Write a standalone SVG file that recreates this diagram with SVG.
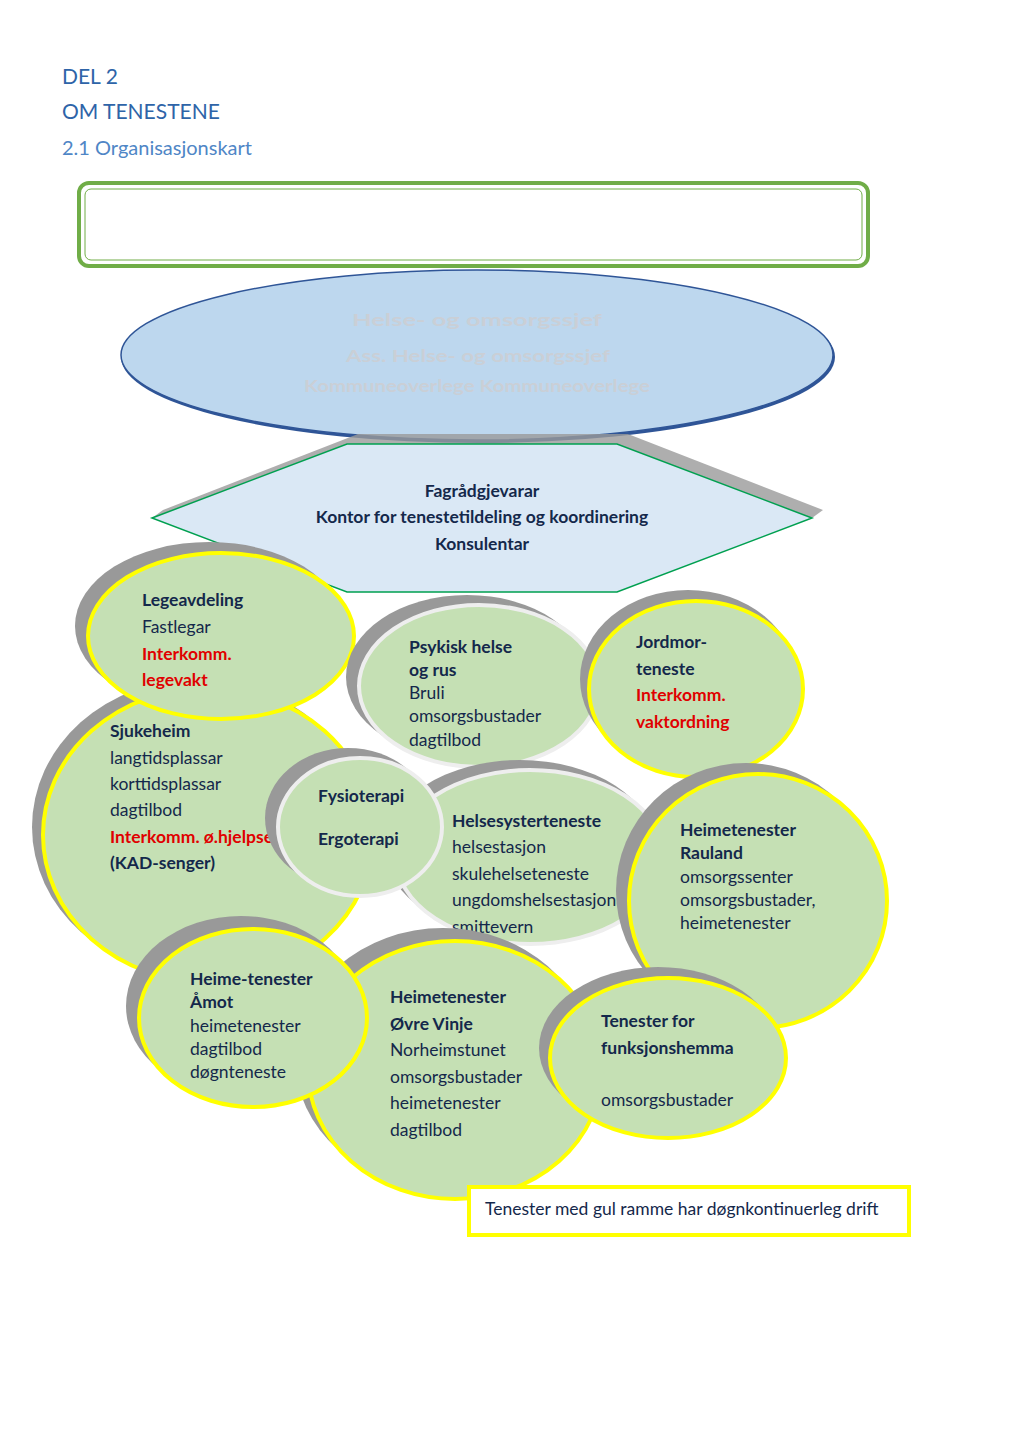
<svg xmlns="http://www.w3.org/2000/svg" width="1024" height="1447" viewBox="0 0 1024 1447">
<style>
text{font-family:Lato,"Open Sans","Liberation Sans",sans-serif;font-size:17.5px;fill:#14284b}
.b{font-weight:bold}
.r{fill:#e00000;font-weight:bold}
.h{fill:#2e64a8;font-size:21px}
.h2{fill:#4f86c6;font-size:20px}
.sh{fill:#999}
.cy{fill:#c5e0b4;stroke:#ffff00;stroke-width:4}
.cw{fill:#c5e0b4;stroke:#eeeeee;stroke-width:4}
.faint{fill:#cacfd6;font-weight:bold}
</style>
<rect width="1024" height="1447" fill="#fff"/>
<g id="header">
<text class="h" x="62" y="84">DEL 2</text>
<text class="h" x="62" y="119">OM TENESTENE</text>
<text class="h2" x="62" y="155">2.1 Organisasjonskart</text>
</g>
<g id="topbox">
<rect x="79" y="183" width="789" height="83" rx="10" fill="#fff" stroke="#70ad47" stroke-width="4"/>
<rect x="85" y="189" width="777" height="71" rx="6" fill="none" stroke="#70ad47" stroke-width="1"/>
</g>
<g id="leader">
<ellipse cx="478" cy="357" rx="357" ry="86" fill="#2f5597"/>
<ellipse cx="477" cy="355" rx="356" ry="85" fill="#bdd7ee" stroke="#2f5597" stroke-width="1.5"/>
<text class="faint" x="352" y="326" font-size="26" textLength="250" lengthAdjust="spacingAndGlyphs">Helse- og omsorgssjef</text>
<text class="faint" x="346" y="362" font-size="24" textLength="264" lengthAdjust="spacingAndGlyphs">Ass. Helse- og omsorgssjef</text>
<text class="faint" x="304" y="392" font-size="19" textLength="346" lengthAdjust="spacingAndGlyphs">Kommuneoverlege   Kommuneoverlege</text>
</g>
<g id="fag">
<polygon points="163,510 358,434 628,434 823,510 812,518 617,444 347,444 152,518" fill="#9a9a9a" opacity="0.8"/>
<polygon points="152,518 347,444 617,444 812,518 617,592 347,592" fill="#dae8f5" stroke="#00a050" stroke-width="1.5"/>
<text class="b" x="482" y="497" text-anchor="middle">Fagrådgjevarar</text>
<text class="b" x="482" y="523" text-anchor="middle">Kontor for tenestetildeling og koordinering</text>
<text class="b" x="482" y="550" text-anchor="middle">Konsulentar</text>
</g>
<g id="sjukeheim">
<ellipse class="sh" cx="198" cy="827" rx="166" ry="148"/>
<ellipse class="cy" cx="208" cy="835" rx="165" ry="147"/>
<text class="b" x="110" y="737">Sjukeheim</text>
<text x="110" y="764">langtidsplassar</text>
<text x="110" y="790">korttidsplassar</text>
<text x="110" y="816">dagtilbod</text>
<text class="r" x="110" y="843">Interkomm. ø.hjelpse</text>
<text class="b" x="110" y="869">(KAD-senger)</text>
</g>
<g id="legeavdeling">
<ellipse class="sh" cx="209" cy="626" rx="134" ry="84"/>
<ellipse class="cy" cx="221" cy="636" rx="133" ry="83"/>
<text class="b" x="142" y="606">Legeavdeling</text>
<text x="142" y="633">Fastlegar</text>
<text class="r" x="142" y="660">Interkomm.</text>
<text class="r" x="142" y="686">legevakt</text>
</g>
<g id="psykisk">
<ellipse class="sh" cx="467" cy="677" rx="121" ry="82"/>
<ellipse class="cw" cx="479" cy="686" rx="120" ry="81"/>
<text class="b" x="409" y="653">Psykisk helse</text>
<text class="b" x="409" y="676">og rus</text>
<text x="409" y="699">Bruli</text>
<text x="409" y="722">omsorgsbustader</text>
<text x="409" y="746">dagtilbod</text>
</g>
<g id="jordmor">
<ellipse class="sh" cx="688" cy="679" rx="108" ry="89"/>
<ellipse class="cy" cx="696" cy="689" rx="107" ry="88"/>
<text class="b" x="636" y="648">Jordmor-</text>
<text class="b" x="636" y="675">teneste</text>
<text class="r" x="636" y="701">Interkomm.</text>
<text class="r" x="636" y="728">vaktordning</text>
</g>
<g id="helsesyster">
<ellipse class="sh" cx="520" cy="848" rx="135" ry="88"/>
<ellipse class="cw" cx="530" cy="857" rx="134" ry="87"/>
<text class="b" x="452" y="827">Helsesysterteneste</text>
<text x="452" y="853">helsestasjon</text>
<text x="452" y="880">skulehelseteneste</text>
<text x="452" y="906">ungdomshelsestasjon</text>
<text x="452" y="933">smittevern</text>
</g>
<g id="fysio">
<ellipse class="sh" cx="348" cy="818" rx="83" ry="70"/>
<ellipse class="cw" cx="360" cy="827" rx="82" ry="69"/>
<text class="b" x="318" y="802">Fysioterapi</text>
<text class="b" x="318" y="845">Ergoterapi</text>
</g>
<g id="rauland">
<ellipse class="sh" cx="746" cy="891" rx="130" ry="128"/>
<ellipse class="cy" cx="758" cy="901" rx="129" ry="127"/>
<text class="b" x="680" y="836">Heimetenester</text>
<text class="b" x="680" y="859">Rauland</text>
<text x="680" y="883">omsorgssenter</text>
<text x="680" y="906">omsorgsbustader,</text>
<text x="680" y="929">heimetenester</text>
</g>
<g id="ovrevinje">
<ellipse class="sh" cx="443" cy="1058" rx="148" ry="130"/>
<ellipse class="cy" cx="455" cy="1070" rx="147" ry="129"/>
<text class="b" x="390" y="1003">Heimetenester</text>
<text class="b" x="390" y="1030">Øvre Vinje</text>
<text x="390" y="1056">Norheimstunet</text>
<text x="390" y="1083">omsorgsbustader</text>
<text x="390" y="1109">heimetenester</text>
<text x="390" y="1136">dagtilbod</text>
</g>
<g id="amot">
<ellipse class="sh" cx="241" cy="1006" rx="115" ry="90"/>
<ellipse class="cy" cx="253" cy="1018" rx="114" ry="89"/>
<text class="b" x="190" y="985">Heime-tenester</text>
<text class="b" x="190" y="1008"> Åmot</text>
<text x="190" y="1032">heimetenester</text>
<text x="190" y="1055">dagtilbod</text>
<text x="190" y="1078">døgnteneste</text>
</g>
<g id="funksjonshemma">
<ellipse class="sh" cx="658" cy="1048" rx="119" ry="81"/>
<ellipse class="cy" cx="668" cy="1058" rx="118" ry="80"/>
<text class="b" x="601" y="1027">Tenester for</text>
<text class="b" x="601" y="1054">funksjonshemma</text>
<text x="601" y="1106">omsorgsbustader</text>
</g>
<g id="legend">
<rect x="469" y="1187" width="440" height="48" fill="#fff" stroke="#ffff00" stroke-width="4"/>
<text x="485" y="1215">Tenester med gul ramme har døgnkontinuerleg drift</text>
</g>
<g id="connectors"></g>
</svg>
